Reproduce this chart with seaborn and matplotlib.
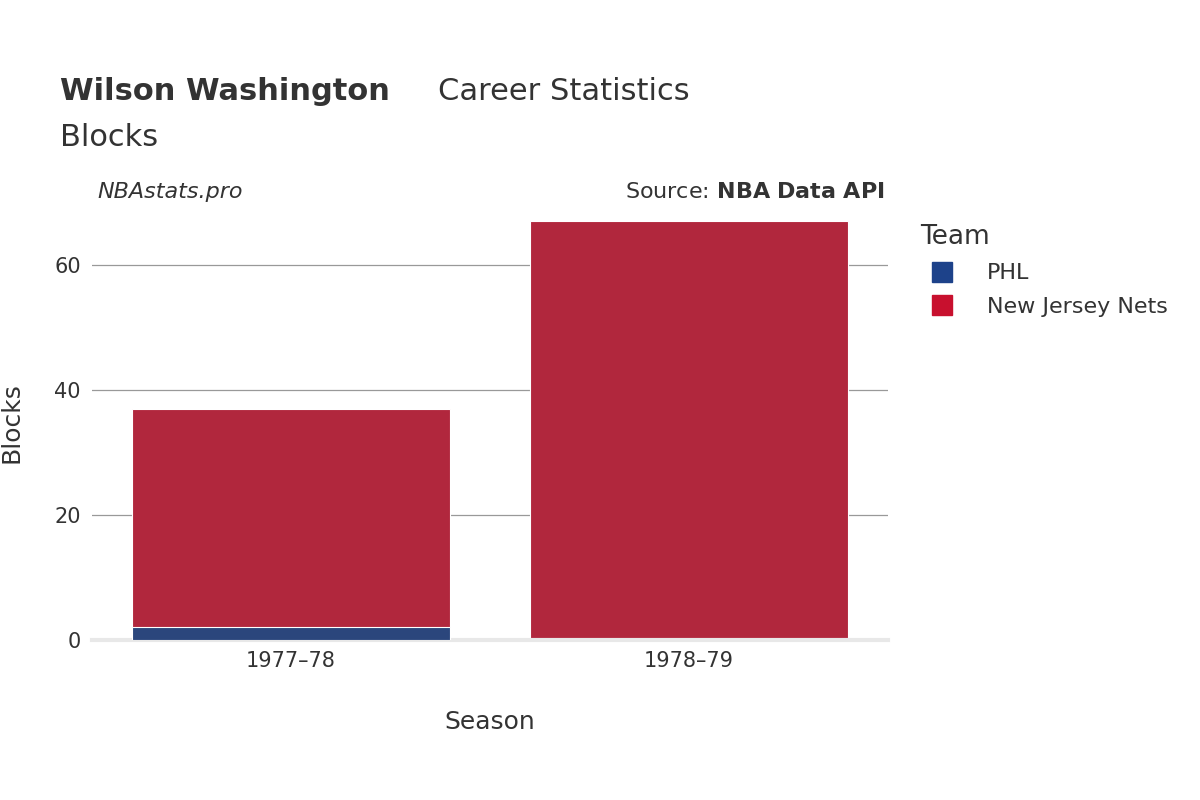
import pandas as pd
import matplotlib.pyplot as plt
import seaborn as sns

seasons = ["1977\u201378", "1978\u201379"]
phl_blocks = [2, 0]
njn_blocks = [35, 67]
teams = ["PHL", "New Jersey Nets"]
team_colors = ["#1d428a", "#c8102e"]

totals = [p + n for p, n in zip(phl_blocks, njn_blocks)]
df_total = pd.DataFrame({"Season": seasons, "Blocks": totals})
df_phl = pd.DataFrame({"Season": seasons, "Blocks": phl_blocks})

fig = plt.figure(figsize=(12, 8), dpi=100)
ax = fig.add_axes([0.0767, 0.2, 0.6633, 0.544])

# stacked: draw totals in NJN colour, then PHL at the base
sns.barplot(data=df_total, x="Season", y="Blocks", color=team_colors[1],
            width=0.8, ax=ax, edgecolor="white", linewidth=0.8, zorder=2)
sns.barplot(data=df_phl, x="Season", y="Blocks", color=team_colors[0],
            width=0.8, ax=ax, edgecolor="white", linewidth=0.8, zorder=3)

ax.set_xlim(-0.5, 1.5)
ax.set_ylim(0, 69.6)
ax.set_yticks([0, 20, 40, 60])
ax.grid(axis="y", color="#999999", linewidth=0.9, zorder=0)
ax.set_axisbelow(True)
for s in ["top", "right", "left"]:
    ax.spines[s].set_visible(False)
ax.spines["bottom"].set_color("#e8e8e8")
ax.spines["bottom"].set_linewidth(3)
ax.tick_params(axis="both", length=0, labelsize=15, colors="#333333", pad=8)
ax.set_xlabel("Season", fontsize=18, color="#333333", labelpad=28)
ax.set_ylabel("Blocks", fontsize=18, color="#333333", labelpad=22)

fig.text(0.05, 0.875, "Wilson Washington", fontsize=22, fontweight="bold", color="#333333")
fig.text(0.365, 0.875, "Career Statistics", fontsize=22, color="#333333")
fig.text(0.05, 0.818, "Blocks", fontsize=22, color="#333333")
fig.text(0.081, 0.752, "NBAstats.pro", fontsize=16, style="italic", color="#333333")
fig.text(0.737, 0.752, "Source: $\\bf{NBA\\ Data\\ API}$", fontsize=16, color="#333333", ha="right")

handles = [plt.Line2D([], [], marker="s", linestyle="", markersize=15, color=c) for c in team_colors]
leg = fig.legend(handles, teams, loc="upper left", bbox_to_anchor=(0.75, 0.745), frameon=False,
                 fontsize=16, title="Team", title_fontsize=19, handletextpad=1.0, labelspacing=0.6)
leg._legend_box.align = "left"
for t in leg.get_texts():
    t.set_color("#333333")
leg.get_title().set_color("#333333")

fig.savefig("out.png", dpi=100)
